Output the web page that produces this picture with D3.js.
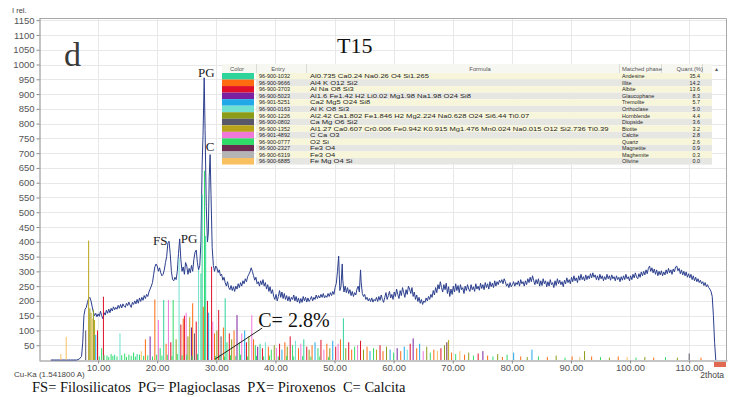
<!DOCTYPE html>
<html>
<head>
<meta charset="utf-8">
<script src="https://cdn.jsdelivr.net/npm/d3@7"></script>
<style>
  body { margin: 0; background: #fff; }
  svg { display: block; }
</style>
</head>
<body>
<div id="chart"></div>
<script>
// phase table (matched phases)
const phaseEntries = ["96-900-1032", "96-900-9666", "96-900-3703", "96-900-5023", "96-901-5251", "96-900-0163", "96-900-1226",
  "96-900-0802", "96-900-1352", "96-901-4892", "96-900-0777", "96-900-2327", "96-900-6319", "96-900-6885"];
const phaseFormulas = [
  "Al0.735 Ca0.24 Na0.26 O4 Si1.265",
  "Al4 K O12 Si2",
  "Al Na O8 Si3",
  "Al1.6 Fe1.42 H2 Li0.02 Mg1.98 Na1.98 O24 Si8",
  "Ca2 Mg5 O24 Si8",
  "Al K O8 Si3",
  "Al2.42 Ca1.802 Fe1.846 H2 Mg2.224 Na0.628 O24 Si6.44 Ti0.07",
  "Ca Mg O6 Si2",
  "Al1.27 Ca0.607 Cr0.006 Fe0.942 K0.915 Mg1.476 Mn0.024 Na0.015 O12 Si2.736 Ti0.39",
  "C Ca O3",
  "O2 Si",
  "Fe3 O4",
  "Fe3 O4",
  "Fe Mg O4 Si"];
const phaseNames = ["Andesine", "Illite", "Albite", "Glaucophane", "Tremolite", "Orthoclase", "Hornblende",
  "Diopside", "Biotite", "Calcite", "Quartz", "Magnetite", "Maghemite", "Olivine"];
const phaseQuant = ["35.4", "14.2", "13.6", "8.3", "5.7", "5.0", "4.4", "3.6", "3.2", "2.8", "2.6", "0.9", "0.3", "0.0"];
const phaseColors = ["#2fd49a", "#ff6b10", "#e0102a", "#7a20a0", "#20a8e8", "#70e0d0", "#8c9c18",
  "#585868", "#b8a418", "#f078d8", "#30dc68", "#6a2c50", "#b4b4b4", "#f8c060"];

const xTicks = [10, 20, 30, 40, 50, 60, 70, 80, 90, 100, 110];
const yTicks = [50, 100, 150, 200, 250, 300, 350, 400, 450, 500, 550, 600, 650, 700, 750, 800, 850, 900, 950, 1000, 1050, 1100, 1150];

// measured pattern: [2theta, intensity]
const scan = [[2,0],[5,0],[6.4,0],[6.8,3],[7.2,12],[7.4,60],[7.6,150],[7.8,172],[8.0,178],[8.2,195],[8.4,208],[8.6,212],[8.8,200],[9.0,180],
  [9.2,162],[9.4,150],[9.6,158],[9.8,146],[10.0,156],[10.2,148],[10.4,165],[10.6,150],[10.8,140],[11.0,160],[11.2,152],[11.4,168],
  [11.6,158],[11.8,172],[12.0,160],[12.2,175],[12.4,166],[12.6,180],[12.8,170],[13.0,178],[13.2,172],[13.4,185],[13.6,175],[13.8,188],
  [14.0,176],[14.2,190],[14.4,182],[14.6,178],[14.8,192],[15.0,184],[15.2,196],[15.4,186],[15.6,178],[15.8,195],[16.0,188],[16.2,200],
  [16.4,190],[16.6,205],[16.8,192],[17.0,210],[17.2,198],[17.4,212],[17.6,202],[17.8,218],[18.0,208],[18.2,222],[18.4,215],[18.6,230],
  [18.8,240],[19.0,250],[19.2,262],[19.4,290],[19.6,315],[19.8,325],[20.0,318],[20.2,300],[20.4,312],[20.6,295],[20.8,285],[21.0,290],
  [21.2,305],[21.4,330],[21.6,350],[21.8,395],[22.0,402],[22.2,360],[22.4,300],[22.6,272],[22.8,268],[23.0,280],[23.2,272],[23.4,300],
  [23.6,360],[23.8,410],[24.0,340],[24.2,300],[24.4,315],[24.6,290],[24.8,330],[25.0,318],[25.2,290],[25.4,310],[25.6,295],[25.8,320],
  [26.0,300],[26.2,340],[26.4,365],[26.6,372],[26.8,330],[27.0,305],[27.2,320],[27.4,400],[27.6,660],[27.75,760],[27.95,955],[28.1,780],
  [28.3,520],[28.5,400],[28.65,430],[28.8,620],[28.95,695],[29.1,560],[29.3,380],[29.5,320],[29.7,300],[29.9,318],[30.1,312],[30.3,296],
  [30.5,305],[30.7,285],[30.9,290],[31.1,270],[31.3,280],[31.5,262],[31.7,250],[31.9,265],[32.1,245],[32.3,238],[32.5,252],[32.7,235],
  [32.9,248],[33.1,232],[33.3,250],[33.5,240],[33.7,258],[33.9,245],[34.1,262],[34.3,250],[34.5,268],[34.7,258],[34.9,275],[35.1,265],
  [35.3,282],[35.5,290],[35.7,298],[35.9,312],[36.1,300],[36.3,285],[36.5,270],[36.7,280],[36.9,258],[37.1,265],[37.3,250],[37.5,268],
  [37.7,255],[37.9,272],[38.1,250],[38.3,262],[38.5,240],[38.7,255],[38.9,232],[39.1,248],[39.3,225],[39.5,238],[39.7,215],[39.9,205],
  [40.1,222],[40.3,200],[40.5,215],[40.7,235],[40.9,212],[41.1,230],[41.3,208],[41.5,225],[41.7,205],[41.9,218],[42.1,200],[42.3,215],
  [42.5,198],[42.7,212],[42.9,205],[43.1,220],[43.3,200],[43.5,215],[43.7,196],[43.9,210],[44.1,192],[44.3,208],[44.5,195],[44.7,215],
  [44.9,200],[45.1,212],[45.3,196],[45.5,210],[45.7,198],[45.9,205],[46.1,215],[46.3,200],[46.5,212],[46.7,205],[46.9,220],[47.1,208],
  [47.3,218],[47.5,210],[47.7,222],[47.9,212],[48.1,225],[48.3,210],[48.5,218],[48.7,212],[48.9,225],[49.1,215],[49.3,228],[49.5,218],
  [49.7,232],[49.9,222],[50.1,245],[50.3,260],[50.5,300],[50.7,352],[50.8,290],[50.9,235],[51.1,250],[51.3,325],[51.4,270],[51.6,230],
  [51.8,250],[52.0,228],[52.2,245],[52.4,225],[52.6,238],[52.8,218],[53.0,232],[53.2,215],[53.4,228],[53.6,220],[53.8,240],[54.0,250],
  [54.2,230],[54.4,305],[54.5,265],[54.7,225],[54.9,215],[55.1,222],[55.3,205],[55.5,212],[55.7,200],[55.9,208],[56.1,198],[56.3,210],
  [56.5,196],[56.7,205],[56.9,200],[57.1,212],[57.3,198],[57.5,215],[57.7,202],[57.9,220],[58.1,205],[58.3,195],[58.5,212],[58.7,228],
  [58.9,205],[59.1,218],[59.3,232],[59.5,210],[59.7,222],[59.9,205],[60.1,230],[60.3,215],[60.5,240],[60.7,222],[60.9,208],[61.1,235],
  [61.3,218],[61.5,245],[61.7,228],[61.9,212],[62.1,238],[62.3,222],[62.5,250],[62.7,240],[62.9,225],[63.1,245],[63.3,215],[63.5,230],
  [63.7,205],[63.9,220],[64.1,198],[64.3,212],[64.5,192],[64.7,205],[64.9,188],[65.1,200],[65.3,195],[65.5,210],[65.7,200],[65.9,215],
  [66.1,205],[66.3,222],[66.5,212],[66.7,235],[66.9,220],[67.1,245],[67.3,228],[67.5,255],[67.7,240],[67.9,265],[68.1,245],[68.3,230],
  [68.5,255],[68.7,238],[68.9,260],[69.1,225],[69.3,248],[69.5,215],[69.7,240],[69.9,222],[70.1,250],[70.3,230],[70.5,258],[70.7,235],
  [70.9,252],[71.1,228],[71.3,255],[71.5,238],[71.7,245],[71.9,225],[72.1,250],[72.3,235],[72.5,255],[72.7,240],[72.9,232],[73.1,255],
  [73.3,238],[73.5,248],[73.7,232],[73.9,258],[74.1,240],[74.3,250],[74.5,236],[74.7,260],[74.9,242],[75.1,255],[75.3,238],[75.5,262],
  [75.7,245],[75.9,258],[76.1,240],[76.3,265],[76.5,248],[76.7,260],[76.9,245],[77.1,268],[77.3,250],[77.5,265],[77.7,255],[77.9,270],
  [78.1,262],[78.3,272],[78.5,258],[78.7,275],[78.9,265],[79.1,250],[79.3,258],[79.5,245],[79.7,262],[79.9,248],[80.1,255],[80.3,265],
  [80.5,250],[80.7,262],[80.9,255],[81.1,268],[81.3,250],[81.5,272],[81.7,258],[81.9,265],[82.1,250],[82.3,268],[82.5,255],[82.7,275],
  [82.9,262],[83.1,280],[83.3,265],[83.5,285],[83.7,268],[83.9,255],[84.1,272],[84.3,258],[84.5,275],[84.7,250],[84.9,268],[85.1,252],
  [85.3,275],[85.5,258],[85.7,268],[85.9,248],[86.1,265],[86.3,250],[86.5,272],[86.7,255],[86.9,262],[87.1,245],[87.3,268],[87.5,252],
  [87.7,275],[87.9,258],[88.1,270],[88.3,255],[88.5,265],[88.7,248],[88.9,270],[89.1,258],[89.3,278],[89.5,262],[89.7,272],[89.9,258],
  [90.1,280],[90.3,265],[90.5,285],[90.7,268],[90.9,278],[91.1,262],[91.3,285],[91.5,270],[91.7,290],[91.9,272],[92.1,282],[92.3,268],
  [92.5,288],[92.7,272],[92.9,285],[93.1,275],[93.3,292],[93.5,278],[93.7,295],[93.9,280],[94.1,288],[94.3,272],[94.5,285],[94.7,270],
  [94.9,290],[95.1,275],[95.3,285],[95.5,268],[95.7,282],[95.9,272],[96.1,290],[96.3,275],[96.5,285],[96.7,270],[96.9,288],[97.1,275],
  [97.3,282],[97.5,268],[97.7,285],[97.9,272],[98.1,280],[98.3,265],[98.5,282],[98.7,270],[98.9,285],[99.1,272],[99.3,290],[99.5,275],
  [99.7,282],[99.9,268],[100.1,285],[100.3,272],[100.5,290],[100.7,278],[100.9,295],[101.1,280],[101.3,275],[101.5,292],[101.7,280],
  [101.9,298],[102.1,285],[102.3,300],[102.5,288],[102.7,305],[102.9,292],[103.1,310],[103.3,318],[103.5,300],[103.7,312],[103.9,295],
  [104.1,308],[104.3,290],[104.5,305],[104.7,285],[104.9,300],[105.1,288],[105.3,302],[105.5,285],[105.7,298],[105.9,288],[106.1,305],
  [106.3,292],[106.5,310],[106.7,295],[106.9,305],[107.1,290],[107.3,308],[107.5,298],[107.7,315],[107.9,318],[108.1,302],[108.3,310],
  [108.5,292],[108.7,305],[108.9,288],[109.1,300],[109.3,285],[109.5,298],[109.7,280],[109.9,292],[110.1,278],[110.3,290],[110.5,272],
  [110.7,285],[110.9,268],[111.1,280],[111.3,265],[111.5,275],[111.7,262],[111.9,270],[112.1,258],[112.3,265],[112.5,252],[112.7,262],
  [112.9,248],[113.1,255],[113.3,245],[113.5,240],[113.7,232],[113.9,215],[114.1,150],[114.3,60],[114.5,0]];

// reference sticks: [2theta, intensity, phase index]
const sticks = [[3.7,20,13],[4.6,78,13],[7.9,100,7],[8.4,404,8],[8.6,175,6],[8.8,160,8],[9.0,140,13],[9.2,170,6],[9.4,135,8],
  [9.6,85,4],[9.9,100,2],[10.6,40,10],[10.9,214,2],[11.5,15,10],[12.2,20,10],[12.8,18,0],[13.7,90,5],[14.5,22,10],[15.2,18,10],
  [16.0,25,10],[16.6,20,0],[17.3,30,13],[18.0,70,1],[18.8,80,3],[19.6,205,1],[20.2,135,9],[20.5,40,10],[21.1,203,0],[21.5,55,1],
  [21.9,203,9],[22.3,60,2],[22.7,203,10],[23.2,70,6],[23.7,345,5],[24.0,120,2],[24.4,140,1],[24.6,150,2],[24.9,160,9],[25.2,80,6],
  [25.5,145,8],[25.8,110,3],[26.0,192,1],[26.3,90,7],[26.6,130,2],[27.0,305,5],[27.4,293,0],[27.6,560,0],[27.8,180,1],[28.0,640,10],
  [28.2,420,0],[28.5,200,2],[28.7,160,4],[29.2,316,2],[29.4,130,9],[29.7,90,1],[30.1,100,6],[30.4,169,2],[30.8,80,7],[31.2,110,1],
  [31.5,209,0],[31.8,60,10],[32.2,90,2],[32.6,70,6],[33.0,100,1],[33.5,152,3],[33.9,60,10],[34.3,90,9],[34.8,100,4],[35.1,60,2],
  [35.5,80,6],[36.0,152,9],[36.3,70,1],[36.6,50,10],[37.0,45,3],[37.4,55,0],[37.8,40,2],[38.3,60,5],[38.8,45,1],[39.3,35,10],
  [39.8,50,6],[40.2,40,9],[40.7,55,2],[41.1,35,4],[41.6,60,1],[42.0,45,6],[42.5,80,2],[42.9,50,10],[43.4,65,5],[43.9,40,1],
  [44.3,55,9],[44.8,70,0],[45.3,45,2],[45.7,35,6],[46.2,50,1],[46.7,60,4],[47.2,40,10],[47.7,68,2],[48.2,35,9],[48.7,55,1],
  [49.2,40,6],[49.7,65,4],[50.2,45,2],[50.6,55,9],[51.0,70,1],[51.5,141,0],[51.9,40,6],[52.4,60,2],[52.9,35,1],[53.4,45,10],
  [53.9,50,9],[54.4,65,2],[54.9,35,6],[55.5,45,1],[56.0,30,4],[56.6,40,10],[57.1,35,8],[57.7,50,2],[58.2,30,1],[58.8,45,6],
  [59.4,35,4],[60.0,25,10],[60.6,40,3],[61.2,30,1],[61.8,45,4],[62.3,35,5],[62.8,55,2],[63.3,73,3],[63.9,40,1],[64.4,55,4],
  [65.0,30,9],[65.6,45,6],[66.2,25,10],[66.8,35,1],[67.4,30,13],[68.0,40,2],[68.6,50,6],[69.0,60,11],[69.3,68,8],[69.8,25,1],
  [70.5,20,10],[71.2,30,13],[72.0,18,1],[72.7,25,6],[73.5,15,10],[74.3,22,2],[75.1,30,3],[75.9,15,1],[76.8,12,10],[77.6,20,6],
  [78.4,10,1],[79.2,18,10],[80.3,25,4],[81.5,12,1],[82.6,10,6],[83.4,35,4],[84.5,12,10],[86.0,10,1],[87.5,15,6],[89.0,8,10],
  [90.2,12,1],[91.5,10,13],[92.3,30,6],[93.5,12,1],[95.0,10,10],[96.5,8,6],[98.0,12,1],[99.5,10,13],[101.0,8,10],[102.5,10,6],
  [104.0,8,1],[106.0,10,10],[108.0,8,6],[110.0,22,7],[112.0,8,1],
  // low green fuzz along the baseline
  [10.2,12,10],[11.0,16,10],[11.8,10,10],[12.5,14,10],[13.2,12,10],[14.0,16,10],[14.8,10,10],[15.6,14,10],[16.3,12,10],[17.0,18,10],
  [17.7,14,10],[18.4,16,10],[19.2,12,10],[19.9,18,10],[20.8,15,10],[21.7,18,10],[22.5,14,10],[23.4,20,10],[24.2,16,10],[25.0,18,10],
  [25.9,14,10],[26.8,20,10],[29.9,14,10],[30.6,18,10],[31.4,12,10],[32.4,16,10],[33.3,14,10],[34.1,18,10],[35.3,12,10],[36.8,14,10],
  [38.0,12,10],[39.0,15,10],[40.5,12,10],[41.9,14,10],[43.1,12,10],[44.6,13,10],[46.0,11,10],[47.5,12,10],[49.0,10,10]];

// text annotations: [label, 2theta, intensity at baseline]
const peakLabels = [["PG", 28.3, 958], ["C", 28.95, 707], ["FS", 20.5, 389], ["PG", 25.4, 396]];
const calciteNote = { label: "C= 2.8%", from: [29.8, 3], to: [37.75, 108], text: [37.1, 112] };

const width = 734, height = 397;
const sans = "'Liberation Sans', Arial, sans-serif";
const serif = "'Liberation Serif', 'Times New Roman', serif";
const svg = d3.select('#chart').append('svg').attr('width', width).attr('height', height)
  .style('font-family', sans);
svg.append('rect').attr('width', width).attr('height', height).attr('fill', '#fff');

const x = d3.scaleLinear().domain([0, 116.4]).range([39, 727]);
const y = d3.scaleLinear().domain([0, 1157.4]).range([360, 18]);

// grid
const grid = svg.append('g').attr('stroke', '#e8e8e8').attr('stroke-width', 1);
grid.selectAll('.gx').data(xTicks).join('line')
  .attr('x1', d => Math.round(x(d)) + 0.5).attr('x2', d => Math.round(x(d)) + 0.5)
  .attr('y1', y.range()[1]).attr('y2', y.range()[0]);
grid.selectAll('.gy').data(yTicks).join('line')
  .attr('x1', x.range()[0]).attr('x2', 726)
  .attr('y1', d => Math.round(y(d)) + 0.5).attr('y2', d => Math.round(y(d)) + 0.5);

// frame
svg.append('path').attr('d', 'M39.5,18.5H726.5V360.5').attr('fill', 'none').attr('stroke', '#a8a8a8');

// axes
const yAxis = svg.append('g').attr('transform', 'translate(39.5,0)')
  .call(d3.axisLeft(y).tickValues(yTicks).tickSize(3).tickSizeOuter(0).tickPadding(2).tickFormat(d3.format('d')));
const xAxis = svg.append('g').attr('transform', 'translate(0,360.5)')
  .call(d3.axisBottom(x).tickValues(xTicks).tickSize(3).tickSizeOuter(0).tickPadding(1).tickFormat(d3.format('.2f')));
[yAxis, xAxis].forEach(a => {
  a.select('.domain').attr('stroke', '#8a8a8a');
  a.selectAll('.tick line').attr('stroke', '#8a8a8a');
  a.selectAll('.tick text').attr('fill', '#555').style('font-size', '9.5px').style('font-family', sans);
});

// measured pattern
svg.append('path').datum(scan)
  .attr('d', d3.line().x(d => x(d[0])).y(d => y(d[1])))
  .attr('fill', 'none').attr('stroke', '#2c3f8e').attr('stroke-width', 1);

// reference sticks
svg.append('g').selectAll('line').data(sticks).join('line')
  .attr('x1', d => x(d[0])).attr('x2', d => x(d[0]))
  .attr('y1', y(0)).attr('y2', d => y(d[1]))
  .attr('stroke', d => phaseColors[d[2]]).attr('stroke-width', 1);

// peak labels
svg.append('g').selectAll('text').data(peakLabels).join('text')
  .attr('x', d => x(d[1])).attr('y', d => y(d[2]))
  .attr('text-anchor', 'middle').attr('font-family', serif)
  .attr('font-size', 13).attr('fill', '#222').text(d => d[0]);

svg.append('line')
  .attr('x1', x(calciteNote.from[0])).attr('y1', y(calciteNote.from[1]))
  .attr('x2', x(calciteNote.to[0])).attr('y2', y(calciteNote.to[1]))
  .attr('stroke', '#222').attr('stroke-width', 1);
svg.append('text').attr('x', x(calciteNote.text[0])).attr('y', y(calciteNote.text[1]))
  .attr('font-family', serif).attr('font-size', 20)
  .attr('fill', '#111').text(calciteNote.label);

// phase table
const tbl = svg.append('g').style('font-family', sans);
const rowH = 6.54, tTop = 64, hdrH = 9, tLeft = 222, tRight = 712;
tbl.append('rect').attr('x', tLeft).attr('y', tTop).attr('width', tRight - tLeft).attr('height', hdrH)
  .attr('fill', '#f7f7f2');
tbl.selectAll('.row').data(phaseNames).join('rect')
  .attr('x', 256).attr('y', (d, i) => tTop + hdrH + i * rowH)
  .attr('width', tRight - 256).attr('height', rowH)
  .attr('fill', (d, i) => i % 2 === 0 ? '#f8f6da' : '#e6e6e2');
tbl.selectAll('.sw').data(phaseColors).join('rect')
  .attr('x', tLeft).attr('y', (d, i) => tTop + hdrH + i * rowH)
  .attr('width', 32).attr('height', rowH).attr('fill', d => d);
tbl.selectAll('.sep').data([256, 306, 619, 661, 702]).join('line')
  .attr('x1', d => d + 0.5).attr('x2', d => d + 0.5).attr('y1', tTop).attr('y2', tTop + hdrH)
  .attr('stroke', '#dcdcd4');
const headers = [["Color", 237, 'middle'], ["Entry", 278, 'middle'], ["Formula", 480, 'middle'],
  ["Matched phase", 622, 'start'], ["Quant.(%)", 703, 'end']];
tbl.selectAll('.hd').data(headers).join('text')
  .attr('transform', d => `translate(${d[1]},${tTop + 6.8}) scale(0.86,0.9)`)
  .attr('text-anchor', d => d[2])
  .attr('font-size', 6.8).attr('fill', '#555').text(d => d[0]);
tbl.append('text').attr('x', 715).attr('y', tTop + 6.5).attr('font-size', 5.5).attr('fill', '#555').text('▴');
// each column: x position, horizontal stretch, anchor (glyphs squeezed a little to fit the row height)
const rowText = (data, xPos, stretch, anchor) => tbl.append('g')
  .selectAll('text').data(data).join('text')
  .attr('transform', (d, i) => `translate(${xPos},${tTop + hdrH + i * rowH + 5.3}) scale(${stretch},0.88)`)
  .attr('text-anchor', anchor)
  .attr('font-size', 6.6).attr('fill', '#262626').text(d => d);
rowText(phaseEntries, 259, 0.83, 'start');
rowText(phaseFormulas, 310, 1.15, 'start');
rowText(phaseNames, 622, 0.82, 'start');
rowText(phaseQuant, 700, 0.82, 'end');

// titles and captions
svg.append('text').attr('x', 64).attr('y', 66).attr('font-family', serif).attr('font-size', 34).attr('fill', '#3a3a3a').text('d');
svg.append('text').attr('x', 337).attr('y', 53).attr('font-family', serif).attr('font-size', 22).attr('fill', '#111').text('T15');
svg.append('text').attr('x', 12).attr('y', 13).attr('font-size', 7.5).attr('fill', '#444').text('I rel.');
svg.append('text').attr('x', 14).attr('y', 376.5).attr('font-size', 8).attr('fill', '#444').text('Cu-Ka (1.541800 A)');
svg.append('text').attr('x', 724).attr('y', 378).attr('text-anchor', 'end').attr('font-size', 8.5).attr('fill', '#444').text('2thota');
svg.append('rect').attr('x', 714).attr('y', 362).attr('width', 12).attr('height', 5).attr('fill', '#e06a50');
svg.append('text').attr('x', 32).attr('y', 392).attr('font-family', serif).attr('font-size', 14.5).attr('fill', '#111')
  .attr('xml:space', 'preserve').style('white-space', 'pre')
  .text('FS= Filosilicatos  PG= Plagioclasas  PX= Piroxenos  C= Calcita');
</script>
</body>
</html>
